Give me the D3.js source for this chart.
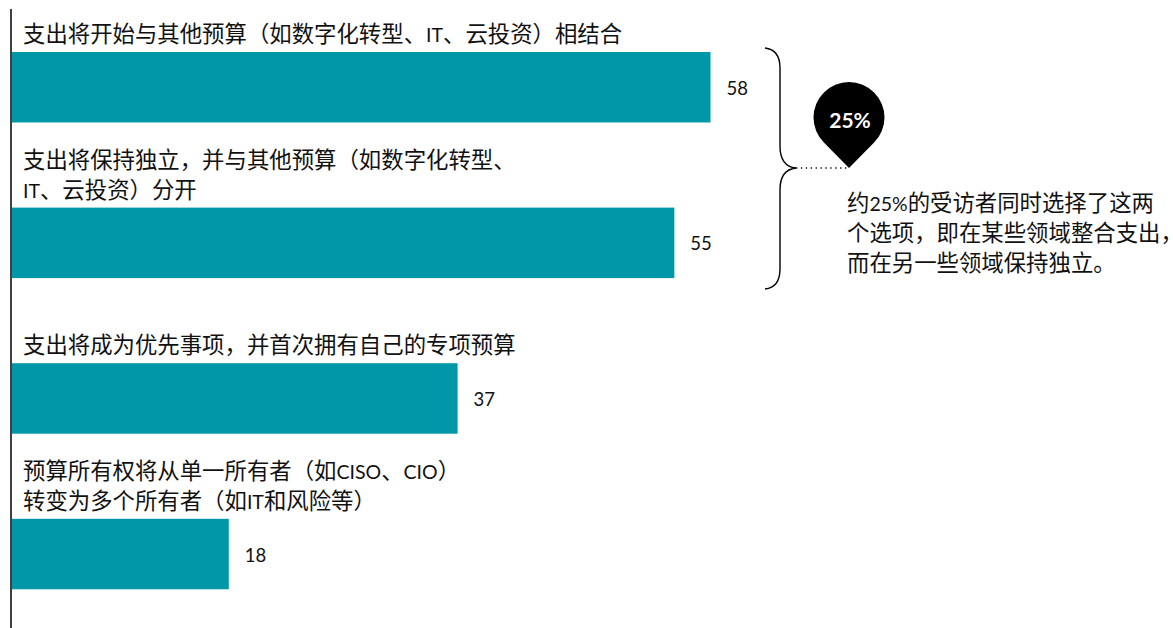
<!DOCTYPE html>
<html>
<head>
<meta charset="utf-8">
<script src="https://cdn.jsdelivr.net/npm/d3@7"></script>
<style>
  html, body { margin: 0; padding: 0; background: #fff; }
  svg { display: block; }
  text { font-family: Lato, "Noto Sans CJK SC", sans-serif; fill: #111; }
</style>
</head>
<body>
<div id="chart"></div>
<script>
const categories = ['merged', 'separate', 'priority', 'owners'];
const values = [58, 55, 37, 18];
const labels = [
    ['支出将开始与其他预算（如数字化转型、IT、云投资）相结合'],
    ['支出将保持独立，并与其他预算（如数字化转型、', 'IT、云投资）分开'],
    ['支出将成为优先事项，并首次拥有自己的专项预算'],
    ['预算所有权将从单一所有者（如CISO、CIO）', '转变为多个所有者（如IT和风险等）']
];
const pinLabel = '25%';
const noteLines = ['约25%的受访者同时选择了这两', '个选项，即在某些领域整合支出，', '而在另一些领域保持独立。'];

const width = 1173, height = 628;
const cjkSize = 22.4, latinSize = 19.5;

const svg = d3.select('#chart').append('svg').attr('width', width).attr('height', height);

const x = d3.scaleLinear().domain([0, 58]).range([12, 710.5]);
const y = d3.scaleBand().domain(categories).range([52, 589.3]).paddingInner(0.547).paddingOuter(0);

// the source sets latin runs smaller than the chinese around them
function addMixedText(sel, line) {
    const runs = line.match(/[A-Za-z0-9%]+|[^A-Za-z0-9%]+/g);
    sel.selectAll('tspan')
        .data(runs)
        .join('tspan')
        .attr('font-size', d => /[A-Za-z0-9%]/.test(d[0]) ? latinSize : cjkSize)
        .text(d => d);
}

// bars
svg.selectAll('rect.bar')
    .data(values)
    .join('rect')
    .attr('class', 'bar')
    .attr('x', x(0))
    .attr('y', (d, i) => y(categories[i]))
    .attr('width', d => x(d) - x(0))
    .attr('height', y.bandwidth())
    .attr('fill', '#0097a9');

// value labels
svg.selectAll('text.value')
    .data(values)
    .join('text')
    .attr('class', 'value')
    .attr('x', d => x(d) + 16)
    .attr('y', (d, i) => y(categories[i]) + y.bandwidth() / 2 + 7.5)
    .attr('font-size', 18.5)
    .text(d => d);

// category labels, sitting on top of each bar
labels.forEach((lines, i) => {
    lines.forEach((line, j) => {
        svg.append('text')
            .attr('x', 23)
            .attr('y', y(categories[i]) - 10 - (lines.length - 1 - j) * 30)
            .call(addMixedText, line);
    });
});

// axis line
svg.append('line')
    .attr('x1', 11).attr('x2', 11)
    .attr('y1', 9).attr('y2', height)
    .attr('stroke', '#000')
    .attr('stroke-width', 1.5);

// brace
svg.append('path')
    .attr('d', 'M765,48 C774,49 780,54 780,68 L780,146 C780,160 786,167 796,168 C786,169 780,176 780,190 L780,269 C780,283 774,288 765,289')
    .attr('fill', 'none')
    .attr('stroke', '#000')
    .attr('stroke-width', 1.4);

// dotted leader
svg.append('line')
    .attr('x1', 796).attr('x2', 848)
    .attr('y1', 168).attr('y2', 168)
    .attr('stroke', '#000')
    .attr('stroke-width', 1.3)
    .attr('stroke-dasharray', '1.3 3.6');

// pin
const pinX = 849, pinY = 117.5, pinR = 35.5;
const pinPath = d3.path();
pinPath.arc(pinX, pinY, pinR, Math.PI * 0.75, Math.PI * 0.25);
pinPath.lineTo(pinX, pinY + 50.5);
pinPath.closePath();
svg.append('path').attr('d', pinPath.toString()).attr('fill', '#000');

svg.append('text')
    .attr('x', pinX + 1)
    .attr('y', pinY + 10)
    .attr('text-anchor', 'middle')
    .attr('font-size', 21)
    .attr('font-weight', 700)
    .style('fill', '#fff')
    .text(pinLabel);

// note
noteLines.forEach((line, i) => {
    svg.append('text')
        .attr('x', 847)
        .attr('y', 211 + i * 30)
        .call(addMixedText, line);
});
</script>
</body>
</html>
